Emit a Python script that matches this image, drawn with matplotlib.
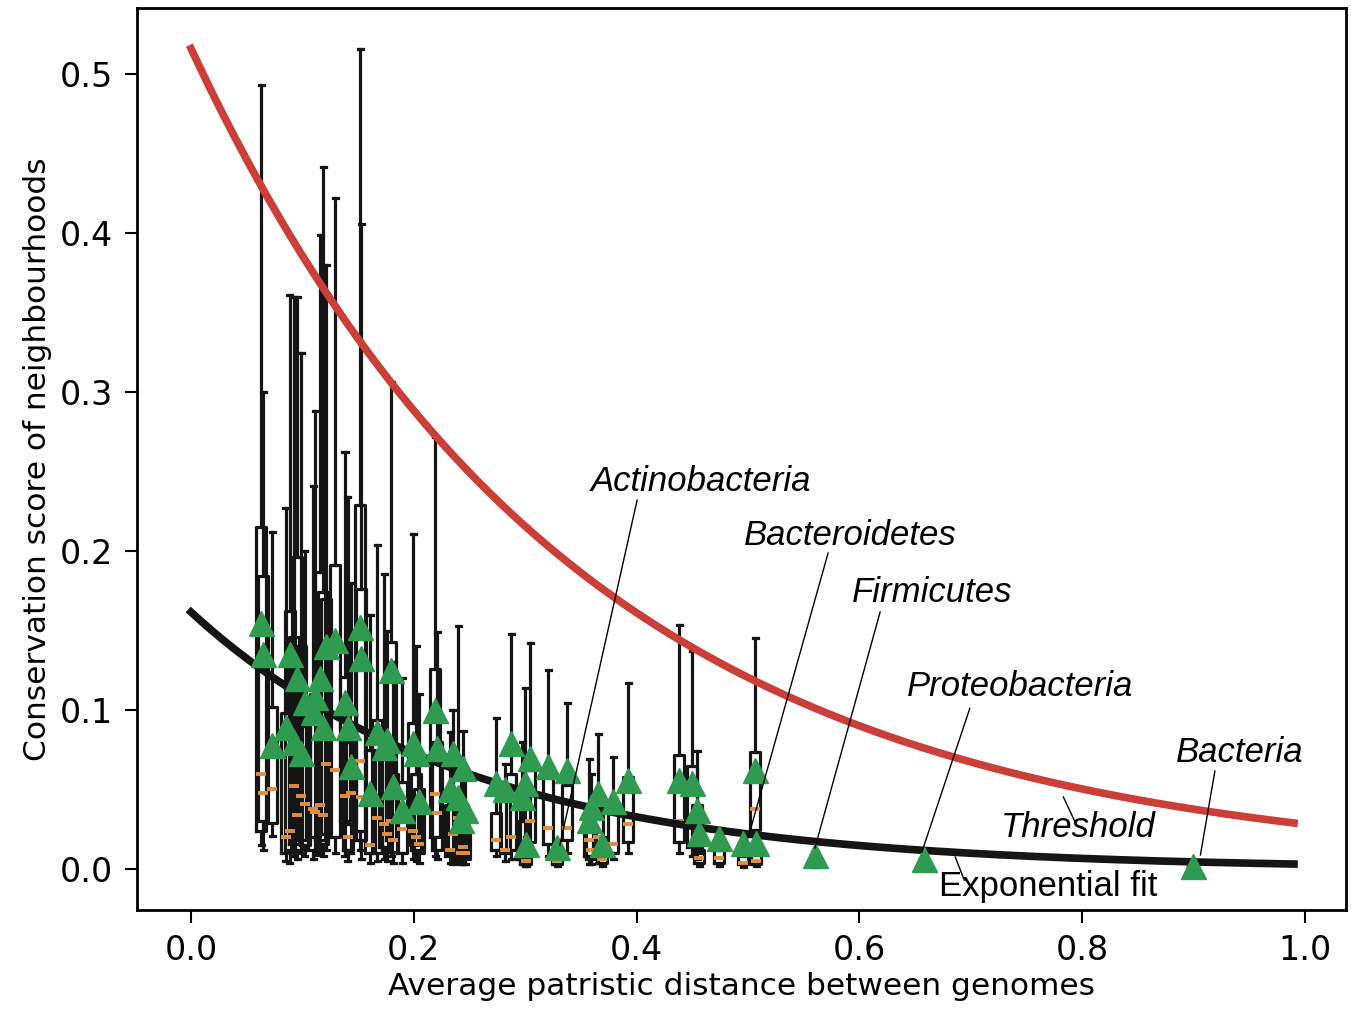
import numpy as np
import matplotlib
matplotlib.use('Agg')
import matplotlib.pyplot as plt

# box positions (average patristic distance) and box statistics
pos = [0.063, 0.065, 0.073, 0.085, 0.0885, 0.092, 0.0955, 0.099, 0.102, 0.1095,
       0.1113, 0.1158, 0.1185, 0.1212, 0.1293, 0.1382, 0.1405, 0.1435, 0.1517, 0.1530,
       0.1607, 0.1670, 0.1733, 0.1760, 0.1795, 0.1815, 0.1894, 0.1993, 0.2020, 0.2047,
       0.2190, 0.2208, 0.2325, 0.2350, 0.2397, 0.2420, 0.2442, 0.2460,
       0.2738, 0.2819, 0.2873, 0.2971, 0.2998, 0.3010, 0.3043, 0.3205, 0.3285, 0.3375,
       0.3573, 0.3591, 0.3654, 0.3689, 0.3788, 0.3923,
       0.4381, 0.4497, 0.4542, 0.4560, 0.4740, 0.4955, 0.5063, 0.5075, 0.5601, 0.6580, 0.8995]
whislo = [0.015, 0.012, 0.021, 0.005, 0.004, 0.008, 0.006, 0.010, 0.008, 0.006,
          0.009, 0.010, 0.008, 0.012, 0.010, 0.008, 0.005, 0.010, 0.012, 0.006,
          0.004, 0.005, 0.006, 0.005, 0.008, 0.004, 0.004, 0.006, 0.005, 0.004,
          0.008, 0.006, 0.004, 0.003, 0.005, 0.003, 0.003, 0.003,
          0.008, 0.005, 0.006, 0.003, 0.002, 0.002, 0.012, 0.008, 0.002, 0.010,
          0.003, 0.003, 0.004, 0.002, 0.006, 0.010,
          0.010, 0.008, 0.006, 0.002, 0.002, 0.001, 0.015, 0.002, 0.001, 0.005, 0.002]
q1 = [0.024, 0.030, 0.029, 0.010, 0.012, 0.016, 0.012, 0.018, 0.015, 0.012,
      0.020, 0.018, 0.016, 0.022, 0.020, 0.030, 0.012, 0.028, 0.024, 0.018,
      0.010, 0.010, 0.014, 0.012, 0.018, 0.011, 0.010, 0.015, 0.012, 0.010,
      0.020, 0.012, 0.008, 0.010, 0.010, 0.006, 0.008, 0.006,
      0.012, 0.010, 0.012, 0.006, 0.004, 0.003, 0.017, 0.016, 0.003, 0.018,
      0.008, 0.006, 0.010, 0.004, 0.010, 0.017,
      0.017, 0.014, 0.010, 0.004, 0.004, 0.003, 0.0245, 0.003, 0.002, 0.005, 0.002]
med = [0.060, 0.048, 0.050, 0.020, 0.024, 0.052, 0.034, 0.046, 0.041, 0.038,
       0.036, 0.040, 0.034, 0.066, 0.062, 0.046, 0.020, 0.048, 0.068, 0.045,
       0.015, 0.032, 0.028, 0.022, 0.030, 0.018, 0.025, 0.024, 0.020, 0.016,
       0.047, 0.035, 0.012, 0.022, 0.032, 0.010, 0.014, 0.010,
       0.018, 0.012, 0.020, 0.010, 0.008, 0.005, 0.030, 0.026, 0.005, 0.026,
       0.018, 0.012, 0.020, 0.006, 0.016, 0.028,
       0.030, 0.028, 0.019, 0.007, 0.007, 0.004, 0.0377, 0.005, 0.003, 0.005, 0.002]
q3 = [0.215, 0.184, 0.102, 0.098, 0.162, 0.146, 0.196, 0.140, 0.090, 0.100,
      0.110, 0.187, 0.174, 0.170, 0.191, 0.121, 0.080, 0.100, 0.229, 0.176,
      0.075, 0.094, 0.085, 0.070, 0.143, 0.060, 0.055, 0.092, 0.060, 0.050,
      0.126, 0.080, 0.040, 0.045, 0.060, 0.030, 0.040, 0.025,
      0.035, 0.043, 0.060, 0.030, 0.050, 0.010, 0.062, 0.058, 0.008, 0.053,
      0.035, 0.025, 0.045, 0.010, 0.036, 0.058,
      0.072, 0.065, 0.040, 0.012, 0.012, 0.008, 0.0736, 0.010, 0.007, 0.005, 0.002]
whishi = [0.493, 0.300, 0.212, 0.227, 0.361, 0.360, 0.360, 0.3245, 0.200, 0.241,
          0.288, 0.399, 0.4415, 0.380, 0.422, 0.2625, 0.234, 0.180, 0.516, 0.406,
          0.160, 0.204, 0.1855, 0.150, 0.306, 0.130, 0.120, 0.2107, 0.140, 0.110,
          0.272, 0.149, 0.086, 0.100, 0.153, 0.070, 0.087, 0.060,
          0.095, 0.066, 0.148, 0.080, 0.114, 0.020, 0.142, 0.125, 0.012, 0.1046,
          0.069, 0.060, 0.085, 0.020, 0.0705, 0.117,
          0.1535, 0.137, 0.074, 0.018, 0.018, 0.012, 0.145, 0.016, 0.010, 0.005, 0.002]
means = [0.155, 0.135, 0.078, 0.089, 0.135, 0.080, 0.120, 0.073, 0.105, 0.099,
         0.108, 0.120, 0.089, 0.140, 0.144, 0.105, 0.089, 0.065, 0.152, 0.133,
         0.048, 0.086, 0.077, 0.081, 0.125, 0.052, 0.037, 0.079, 0.073, 0.043,
         0.100, 0.076, 0.050, 0.073, 0.045, 0.031, 0.0635, 0.037,
         0.054, 0.050, 0.079, 0.045, 0.054, 0.016, 0.070, 0.065, 0.014, 0.062,
         0.031, 0.039, 0.048, 0.016, 0.043, 0.056,
         0.056, 0.054, 0.037, 0.0226, 0.0195, 0.0164, 0.062, 0.0164, 0.009, 0.006, 0.002]

# exponential curves: a * exp(-b * x)
thr_a, thr_b = 0.516, 2.91
fit_a, fit_b = 0.1616, 3.99
curve_x = np.linspace(0, 0.99, 300)

# annotations: label, text x, text y, line start, line end, italic
labels = ['Actinobacteria', 'Bacteroidetes', 'Firmicutes', 'Proteobacteria',
          'Bacteria', 'Threshold', 'Exponential fit']
text_x = [0.458, 0.5916, 0.665, 0.744, 0.9417, 0.796, 0.769]
text_y = [0.244, 0.210, 0.174, 0.115, 0.073, 0.0264, -0.0113]
line_x0 = [0.4004, 0.5718, 0.6185, 0.699, 0.919, 0.783, 0.686]
line_y0 = [0.232, 0.1987, 0.1616, 0.101, 0.0616, 0.0453, 0.0075]
line_x1 = [0.331, 0.500, 0.560, 0.656, 0.906, 0.7935, 0.694]
line_y1 = [0.015, 0.0195, 0.0132, 0.0107, 0.0088, 0.0296, -0.007]
italic = [True, True, True, True, True, True, False]

fig = plt.figure(figsize=(13.51, 10.10), dpi=100)
ax = fig.add_axes([0.1014, 0.099, 0.895, 0.893])

stats = []
for i in range(len(pos)):
    stats.append({'whislo': whislo[i], 'q1': q1[i], 'med': med[i], 'q3': q3[i],
                  'whishi': whishi[i], 'mean': means[i], 'fliers': []})

ax.bxp(stats, positions=pos, widths=0.009, showmeans=True, manage_ticks=False,
       boxprops=dict(color='#151515', lw=2.3),
       whiskerprops=dict(color='#151515', lw=2.3),
       capprops=dict(color='#151515', lw=2.3),
       medianprops=dict(color='#E08E3C', lw=2.8),
       meanprops=dict(marker='^', markerfacecolor='#2F9B50', markeredgecolor='#2F9B50',
                      markersize=18, zorder=6),
       zorder=2)

ax.plot(curve_x, thr_a * np.exp(-thr_b * curve_x), color='#CC3E38', lw=5.5, zorder=4)
ax.plot(curve_x, fit_a * np.exp(-fit_b * curve_x), color='#151515', lw=5.5, zorder=4)

for i in range(len(labels)):
    ax.plot([line_x0[i], line_x1[i]], [line_y0[i], line_y1[i]], color='black', lw=1.0, zorder=7)
    ax.text(text_x[i], text_y[i], labels[i], ha='center', va='center', fontsize=25,
            style='italic' if italic[i] else 'normal', family='Liberation Sans', zorder=8)

ax.set_xlim(-0.0485, 1.0368)
ax.set_ylim(-0.0258, 0.5415)
ax.set_xticks([0.0, 0.2, 0.4, 0.6, 0.8, 1.0])
ax.set_yticks([0.0, 0.1, 0.2, 0.3, 0.4, 0.5])
ax.set_xticklabels(['0.0', '0.2', '0.4', '0.6', '0.8', '1.0'], family='DejaVu Sans', fontsize=24)
ax.set_yticklabels(['0.0', '0.1', '0.2', '0.3', '0.4', '0.5'], family='DejaVu Sans', fontsize=24)
ax.tick_params(length=9, width=1.5, pad=8)
for s in ax.spines.values():
    s.set_linewidth(2)
ax.set_xlabel('Average patristic distance between genomes', family='DejaVu Sans', fontsize=22.5, labelpad=4)
ax.set_ylabel('Conservation score of neighbourhoods', family='DejaVu Sans', fontsize=22.5, labelpad=6)

fig.savefig('out.png', dpi=100)
